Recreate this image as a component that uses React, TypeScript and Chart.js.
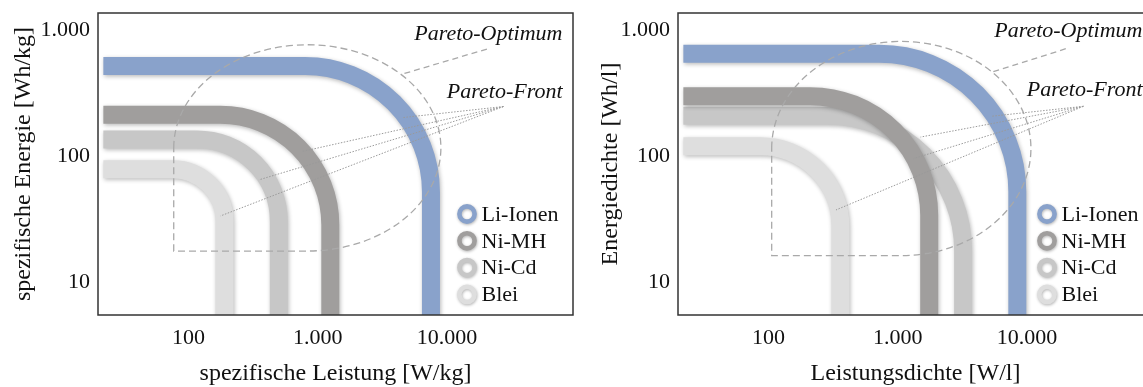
import React, { useEffect, useRef } from "react";
import { Chart, registerables } from "chart.js";

Chart.register(...registerables);

// ---------- data ----------
const SERIES = ["Li-Ionen", "Ni-MH", "Ni-Cd", "Blei"];
const COLORS = ["#89a2cb", "#a09e9d", "#c7c7c7", "#dedede"];

// left panel: spezifische Leistung [W/kg] vs spezifische Energie [Wh/kg]
const LEFT_POWER = [7500, 1250, 500, 190];
const LEFT_ENERGY = [520, 213, 136, 79];
// right panel: Leistungsdichte [W/l] vs Energiedichte [Wh/l]
const RIGHT_POWER = [8400, 1750, 3200, 360];
const RIGHT_ENERGY = [650, 300, 210, 120];

const X_TICKS = [100, 1000, 10000];
const X_TICK_LABELS = ["100", "1.000", "10.000"];
const Y_TICKS = [10, 100, 1000];
const Y_TICK_LABELS = ["10", "100", "1.000"];

const X_MIN = 20;
const X_MAX = 94000;
const Y_MIN = 5.5;
const Y_MAX = 1370;
const X_START = 22;

// annotation anchors (data units)
const LEFT_REGION = [77, 8950, 17.7, 767]; // xMin, xMax, yMin, yMax
const LEFT_OPT_LEADER = [[20300, 709], [4450, 447]];
const LEFT_FRONT_HUB = [27200, 248];
const LEFT_FRONT_TARGETS = [[4600, 203], [753, 109], [351, 65], [177, 33.6]];

const RIGHT_REGION = [106, 10700, 16.3, 815];
const RIGHT_OPT_LEADER = [[19900, 713], [5340, 465]];
const RIGHT_FRONT_HUB = [27200, 249];
const RIGHT_FRONT_TARGETS = [[5380, 208], [1500, 142], [1330, 96], [333, 37.5]];

// ---------- styles ----------
const SERIF = '"Liberation Serif", "Times New Roman", serif';
const BAND_WIDTH = 18;
const DRAW_ORDER = [3, 2, 1, 0];

type Panel = {
  power: number[];
  energy: number[];
  radii: number[];
  xTitle: string;
  yTitle: string;
  yTitlePad: number;
  region: number[];
  optLeader: number[][];
  frontHub: number[];
  frontTargets: number[][];
  textBaselines: number[];
};

const PANELS: Panel[] = [
  {
    power: LEFT_POWER,
    energy: LEFT_ENERGY,
    radii: [126, 110, 82, 52],
    xTitle: "spezifische Leistung [W/kg]",
    yTitle: "spezifische Energie [Wh/kg]",
    yTitlePad: 9,
    region: LEFT_REGION,
    optLeader: LEFT_OPT_LEADER,
    frontHub: LEFT_FRONT_HUB,
    frontTargets: LEFT_FRONT_TARGETS,
    textBaselines: [39.5, 98],
  },
  {
    power: RIGHT_POWER,
    energy: RIGHT_ENERGY,
    radii: [138, 119, 135, 80],
    xTitle: "Leistungsdichte [W/l]",
    yTitle: "Energiedichte [Wh/l]",
    yTitlePad: 16,
    region: RIGHT_REGION,
    optLeader: RIGHT_OPT_LEADER,
    frontHub: RIGHT_FRONT_HUB,
    frontTargets: RIGHT_FRONT_TARGETS,
    textBaselines: [37, 95.5],
  },
];

function makeOverlay(panel: Panel) {
  return {
    id: "overlay",
    afterDatasetsDraw(chart: any) {
      const ctx = chart.ctx as CanvasRenderingContext2D;
      const area = chart.chartArea;
      const xs = chart.scales.x;
      const ys = chart.scales.y;
      const px = (v: number) => xs.getPixelForValue(v);
      const py = (v: number) => ys.getPixelForValue(v);

      // bands
      ctx.save();
      ctx.beginPath();
      ctx.rect(area.left, area.top, area.right - area.left, area.bottom - area.top);
      ctx.clip();
      DRAW_ORDER.forEach((i) => {
        const meta = chart.getDatasetMeta(i);
        const pts = meta.data;
        if (!pts || pts.length < 3) return;
        ctx.save();
        ctx.beginPath();
        ctx.moveTo(pts[0].x, pts[0].y);
        ctx.arcTo(pts[1].x, pts[1].y, pts[2].x, pts[2].y, panel.radii[i]);
        ctx.lineTo(pts[2].x, pts[2].y + 10);
        ctx.lineWidth = BAND_WIDTH;
        ctx.lineCap = "butt";
        ctx.strokeStyle = chart.data.datasets[i].borderColor;
        ctx.shadowColor = "rgba(0,0,0,0.28)";
        ctx.shadowBlur = 4;
        ctx.shadowOffsetX = 1;
        ctx.shadowOffsetY = 1.5;
        ctx.stroke();
        ctx.restore();
      });

      // dashed optimum region
      const [x0, x1, y0, y1] = panel.region;
      const L = px(x0), R = px(x1), B = py(y0), T = py(y1);
      const cx = (L + R) / 2, cy = (T + B) / 2;
      const rx = (R - L) / 2, ry = (B - T) / 2;
      ctx.save();
      ctx.strokeStyle = "#a9a9a9";
      ctx.lineWidth = 1.3;
      ctx.setLineDash([7, 4]);
      ctx.beginPath();
      ctx.moveTo(L, cy);
      ctx.ellipse(cx, cy, rx, ry, 0, Math.PI, 2 * Math.PI);
      ctx.ellipse(cx, cy, rx, ry, 0, 0, Math.PI / 2);
      ctx.lineTo(L, B);
      ctx.lineTo(L, cy);
      ctx.stroke();
      // optimum leader
      ctx.setLineDash([6, 4]);
      ctx.beginPath();
      ctx.moveTo(px(panel.optLeader[0][0]), py(panel.optLeader[0][1]));
      ctx.lineTo(px(panel.optLeader[1][0]), py(panel.optLeader[1][1]));
      ctx.stroke();
      // front leaders
      ctx.setLineDash([1.5, 1.5]);
      ctx.lineWidth = 1;
      ctx.strokeStyle = "#9a9a9a";
      panel.frontTargets.forEach((t) => {
        ctx.beginPath();
        ctx.moveTo(px(panel.frontHub[0]), py(panel.frontHub[1]));
        ctx.lineTo(px(t[0]), py(t[1]));
        ctx.stroke();
      });
      ctx.restore();
      ctx.restore();

      // annotation texts
      ctx.save();
      ctx.fillStyle = "#111";
      ctx.font = `italic 22px ${SERIF}`;
      ctx.textAlign = "right";
      ctx.textBaseline = "alphabetic";
      ctx.fillText("Pareto-Optimum", area.right - 10.5, panel.textBaselines[0]);
      ctx.fillText("Pareto-Front", area.right - 10.5, panel.textBaselines[1]);
      ctx.restore();

      // legend
      ctx.save();
      chart.data.datasets.forEach((ds: any, i: number) => {
        const ly = 214 + i * 26.8;
        const lx = area.left + 369;
        ctx.save();
        ctx.beginPath();
        ctx.arc(lx, ly, 7.6, 0, Math.PI * 2);
        ctx.lineWidth = 4.6;
        ctx.strokeStyle = ds.borderColor;
        ctx.shadowColor = "rgba(0,0,0,0.3)";
        ctx.shadowBlur = 3;
        ctx.shadowOffsetX = 0.5;
        ctx.shadowOffsetY = 1;
        ctx.stroke();
        ctx.restore();
        ctx.fillStyle = "#111";
        ctx.font = `22px ${SERIF}`;
        ctx.textAlign = "left";
        ctx.textBaseline = "middle";
        ctx.fillText(ds.label, area.left + 383.5, ly + 1);
      });
      ctx.restore();

      // frame
      ctx.save();
      ctx.strokeStyle = "#333";
      ctx.lineWidth = 1.5;
      ctx.strokeRect(area.left, area.top, area.right - area.left, area.bottom - area.top);
      ctx.restore();
    },
  };
}

function buildConfig(panel: Panel): any {
  return {
    type: "scatter",
    data: {
      datasets: SERIES.map((name, i) => ({
        label: name,
        data: [
          { x: X_START, y: panel.energy[i] },
          { x: panel.power[i], y: panel.energy[i] },
          { x: panel.power[i], y: Y_MIN },
        ],
        borderColor: COLORS[i],
        backgroundColor: COLORS[i],
        pointRadius: 0,
        showLine: false,
      })),
    },
    options: {
      animation: false,
      responsive: false,
      devicePixelRatio: 1,
      layout: { padding: { left: 0, right: 7, top: 13, bottom: 0 } },
      plugins: { legend: { display: false }, tooltip: { enabled: false } },
      scales: {
        x: {
          type: "logarithmic",
          min: X_MIN,
          max: X_MAX,
          grid: { display: false, drawTicks: false },
          border: { display: false },
          afterBuildTicks: (s: any) => {
            s.ticks = X_TICKS.map((v) => ({ value: v }));
          },
          afterFit: (s: any) => {
            s.height = 80;
            s.paddingLeft = 0;
            s.paddingRight = 0;
          },
          ticks: {
            autoSkip: false,
            maxRotation: 0,
            padding: 10,
            color: "#111",
            font: { family: SERIF, size: 22 },
            callback: (v: number) => {
              const k = X_TICKS.indexOf(v);
              return k >= 0 ? X_TICK_LABELS[k] : "";
            },
          },
          title: {
            display: true,
            text: panel.xTitle,
            color: "#111",
            font: { family: SERIF, size: 24 },
            padding: { top: 0, bottom: 7 },
          },
        },
        y: {
          type: "logarithmic",
          min: Y_MIN,
          max: Y_MAX,
          grid: { display: false, drawTicks: false },
          border: { display: false },
          afterBuildTicks: (s: any) => {
            s.ticks = Y_TICKS.map((v) => ({ value: v }));
          },
          afterFit: (s: any) => {
            s.width = 98;
            s.paddingTop = 0;
            s.paddingBottom = 0;
          },
          ticks: {
            autoSkip: false,
            padding: 8,
            color: "#111",
            font: { family: SERIF, size: 22 },
            callback: (v: number) => {
              const k = Y_TICKS.indexOf(v);
              return k >= 0 ? Y_TICK_LABELS[k] : "";
            },
          },
          title: {
            display: true,
            text: panel.yTitle,
            color: "#111",
            font: { family: SERIF, size: 24 },
            padding: { top: panel.yTitlePad, bottom: 0 },
          },
        },
      },
    },
    plugins: [makeOverlay(panel)],
  };
}

function PanelChart({ panel }: { panel: Panel }) {
  const ref = useRef<HTMLCanvasElement | null>(null);
  useEffect(() => {
    if (!ref.current) return;
    const chart = new Chart(ref.current, buildConfig(panel));
    return () => chart.destroy();
  }, [panel]);
  return <canvas ref={ref} width={580} height={395} style={{ display: "block", width: 580, height: 395 }} />;
}

export default function App() {
  return (
    <div
      style={{
        position: "fixed",
        left: 0,
        top: 0,
        width: 1143,
        height: 387,
        overflow: "hidden",
        background: "#fff",
      }}
    >
      <div style={{ position: "absolute", left: 0, top: 0, width: 580, height: 395 }}>
        <PanelChart panel={PANELS[0]} />
      </div>
      <div style={{ position: "absolute", left: 580, top: 0, width: 580, height: 395 }}>
        <PanelChart panel={PANELS[1]} />
      </div>
    </div>
  );
}
